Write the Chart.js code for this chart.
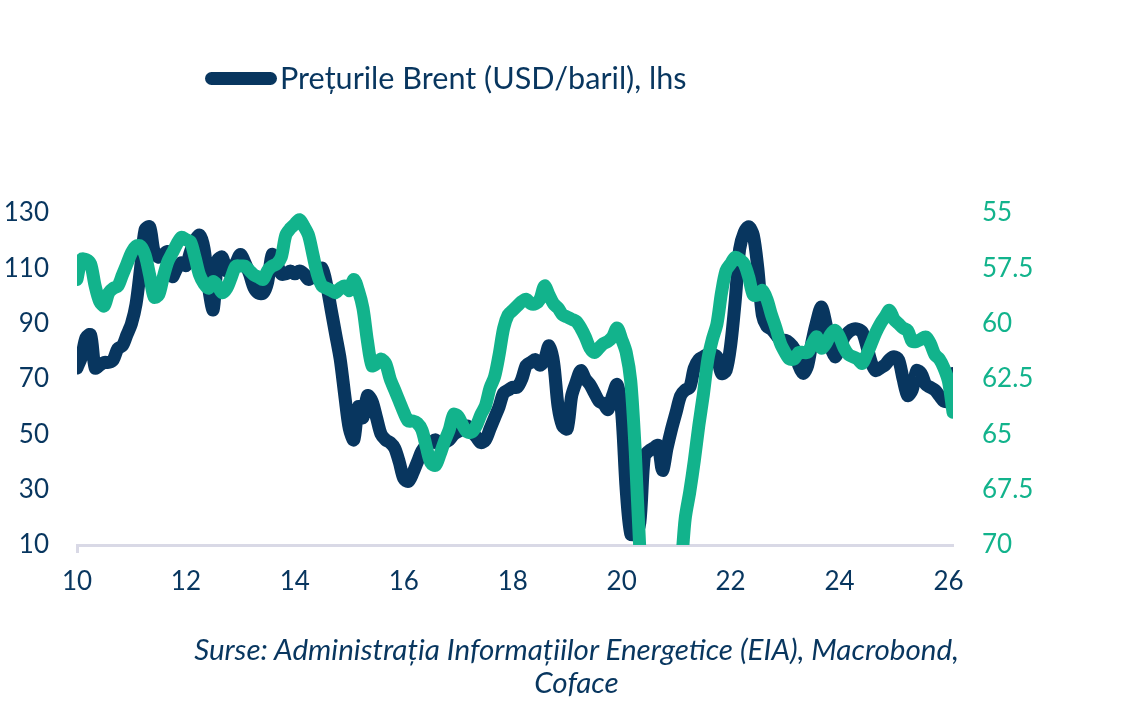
<!DOCTYPE html>
<html>
<head>
<meta charset="utf-8">
<script src="https://cdn.jsdelivr.net/npm/chart.js@4"></script>
<style>
  body { margin: 0; background: #fff; }
  #wrap { position: relative; width: 1141px; height: 701px; font-family: Lato, sans-serif; }
  #myChart { position: absolute; left: 0; top: 0; }
  #legend { position: absolute; left: 205px; top: 61px; height: 34px; display: flex; align-items: center; }
  #legend .swatch { width: 72px; height: 13px; border-radius: 6.5px; background: #08365f; margin-right: 3px; }
  #legend span { font-size: 30.6px; color: #08365f; line-height: 34px; }
  #source { position: absolute; left: 6px; width: 1141px; top: 632px; text-align: center;
            font-style: italic; font-size: 29.6px; line-height: 33px; color: #08365f; }
</style>
</head>
<body>
<div id="wrap">
  <canvas id="myChart" width="1141" height="701"></canvas>
  <div id="legend"><div class="swatch"></div><span>Prețurile Brent (USD/baril), lhs</span></div>
  <div id="source">Surse: Administrația Informațiilor Energetice (EIA), Macrobond,<br>Coface</div>
</div>
<script>
const navy = '#08365f';
const green = '#12b38c';

// monthly, Jan 2010 .. Feb 2026
const months = [];
for (let y = 2010; y <= 2026; y++) {
    for (let m = 1; m <= 12; m++) {
        if (y === 2026 && m > 2) break;
        months.push(y + '-' + String(m).padStart(2, '0'));
    }
}

// Brent, USD/baril (lhs)
const brent = [
    74, 78, 85, 86, 74, 75, 76, 76, 77, 81, 82, 86,
    90, 97, 110, 124, 125, 116, 114, 115, 116, 107, 110, 112,
    111, 116, 120, 122, 117, 103, 95, 113, 114, 109, 110, 112,
    115, 112, 108, 103, 101, 101, 105, 115, 112, 108, 108, 109,
    108, 109, 108, 106, 107, 109, 110, 104, 95, 86, 77, 64,
    52, 48, 60, 56, 64, 62, 56, 50, 48, 47, 45, 40,
    34, 33, 36, 40, 44, 46, 47, 48, 46, 47, 48, 50,
    51, 52, 53, 51, 49, 47, 48, 52, 56, 60, 65, 66,
    67, 67, 70, 75, 76, 77, 75, 77, 82, 76, 60, 53,
    52, 64, 69, 73, 70, 68, 65, 62, 61, 59, 64, 68,
    58, 30, 14, 14, 18, 42, 44, 45, 46, 37, 45, 52,
    58, 64, 66, 67, 74, 77, 78, 79, 79, 78, 72, 73,
    82, 98, 117, 123, 125, 122, 110, 93, 89, 88, 86, 84,
    84, 83, 81, 75, 72, 75, 84, 91, 96, 90, 82, 78,
    81, 85, 87, 88, 88, 87, 82, 76, 73, 74, 75, 77,
    78, 77, 70, 64, 66, 73, 72, 68, 67, 66, 64, 62,
    62, 72
];

// second series (rhs, inverted)
const rhsSeries = [
    58.0, 57.1, 57.1, 57.3, 58.3, 59.0, 59.2, 58.6, 58.4, 58.3, 57.8, 57.3,
    56.8, 56.5, 56.5, 56.9, 57.8, 58.8, 58.7, 57.9, 57.2, 56.8, 56.4, 56.1,
    56.2, 56.3, 57.0, 57.8, 58.2, 58.4, 58.1, 58.3, 58.6, 58.4, 57.9, 57.4,
    57.4, 57.4, 57.6, 57.8, 57.9, 58.0, 57.6, 57.4, 57.3, 57.0, 56.0, 55.7,
    55.5, 55.3, 55.6, 56.0, 56.9, 57.8, 58.3, 58.4, 58.5, 58.6, 58.4, 58.3,
    58.5, 58.0, 58.5, 59.3, 60.8, 61.9, 61.8, 61.6, 61.8, 62.5, 63.0, 63.5,
    64.0, 64.4, 64.4, 64.5, 64.8, 65.6, 66.3, 66.4, 65.9, 65.3, 64.8, 64.1,
    64.2, 64.6, 64.9, 64.9, 64.6, 64.1, 63.7, 62.9, 62.4, 61.4, 60.2, 59.6,
    59.4, 59.2, 59.0, 58.9, 59.1, 59.1, 58.9, 58.3, 58.7, 59.1, 59.3, 59.6,
    59.7, 59.8, 59.9, 60.2, 60.6, 61.1, 61.3, 61.1, 60.9, 60.8, 60.6, 60.2,
    60.7, 61.3, 62.6, 65.8, 70.2, 73, 75, 76, 75, 74, 73, 72,
    71.5, 71.0, 68.8, 67.6, 66.2, 64.6, 63.2, 61.6, 60.7, 60.0, 58.6, 57.6,
    57.3, 57.0, 57.1, 57.3, 57.9, 58.7, 58.7, 58.5, 58.9, 59.6, 60.2, 60.9,
    61.3, 61.6, 61.6, 61.3, 61.3, 61.3, 60.9, 60.6, 61.1, 60.9, 60.5, 60.3,
    60.6, 61.1, 61.4, 61.5, 61.6, 61.8, 61.4, 60.9, 60.4, 60.0, 59.7, 59.4,
    59.8, 60.0, 60.2, 60.3, 60.8, 60.8, 60.7, 60.6, 60.9, 61.4, 61.6, 62.0,
    62.6, 64.0
];

const leftTicks = [10, 30, 50, 70, 90, 110, 130];
const rightTicks = [55, 57.5, 60, 62.5, 65, 67.5, 70];

function isMajor(label) {
    if (!label) return false;
    const [y, m] = label.split('-');
    return m === '01' && Number(y) % 2 === 0;
}

const ctx = document.getElementById('myChart');
const lineClip = { left: 0, right: 0, top: 10, bottom: 0 };

new Chart(ctx, {
    type: 'line',
    data: {
        labels: months,
        datasets: [{
            label: 'Prețurile Brent (USD/baril), lhs',
            data: brent,
            yAxisID: 'y',
            borderColor: navy,
            borderWidth: 13,
            borderJoinStyle: 'round',
            borderCapStyle: 'round',
            pointRadius: 0,
            tension: 0.3,
            clip: lineClip,
            order: 2
        }, {
            label: 'rhs',
            data: rhsSeries,
            yAxisID: 'y1',
            borderColor: green,
            borderWidth: 13,
            borderJoinStyle: 'round',
            borderCapStyle: 'round',
            pointRadius: 0,
            tension: 0.3,
            clip: lineClip,
            order: 1
        }]
    },
    options: {
        responsive: false,
        animation: false,
        layout: { padding: { top: 213, left: 0, right: 0, bottom: 0 } },
        plugins: {
            legend: { display: false },
            tooltip: { enabled: false }
        },
        scales: {
            x: {
                type: 'category',
                offset: false,
                afterFit: (s) => { s.height = 156; },
                border: { color: '#d9d9e6', width: 3 },
                grid: {
                    drawOnChartArea: false,
                    drawTicks: true,
                    tickLength: 8,
                    tickWidth: 3,
                    tickColor: (c) => isMajor(months[c.index]) ? '#d9d9e6' : 'rgba(0,0,0,0)'
                },
                ticks: {
                    autoSkip: false,
                    maxRotation: 0,
                    padding: 13,
                    color: navy,
                    font: { family: 'Lato', size: 26 },
                    callback: (v, i) => isMajor(months[i]) ? months[i].slice(2, 4) : null
                }
            },
            y: {
                position: 'left',
                min: 10,
                max: 130,
                afterFit: (s) => { s.width = 77; },
                afterBuildTicks: (s) => { s.ticks = leftTicks.map(v => ({ value: v })); },
                border: { display: false },
                grid: { display: false, drawTicks: false },
                ticks: {
                    padding: 28,
                    color: navy,
                    font: { family: 'Lato', size: 26 }
                }
            },
            y1: {
                position: 'right',
                reverse: true,
                min: 55,
                max: 70,
                afterFit: (s) => { s.width = 188; },
                afterBuildTicks: (s) => { s.ticks = rightTicks.map(v => ({ value: v })); },
                border: { display: false },
                grid: { display: false, drawTicks: false },
                ticks: {
                    padding: 29,
                    color: green,
                    font: { family: 'Lato', size: 26 }
                }
            }
        }
    }
});
</script>
</body>
</html>
